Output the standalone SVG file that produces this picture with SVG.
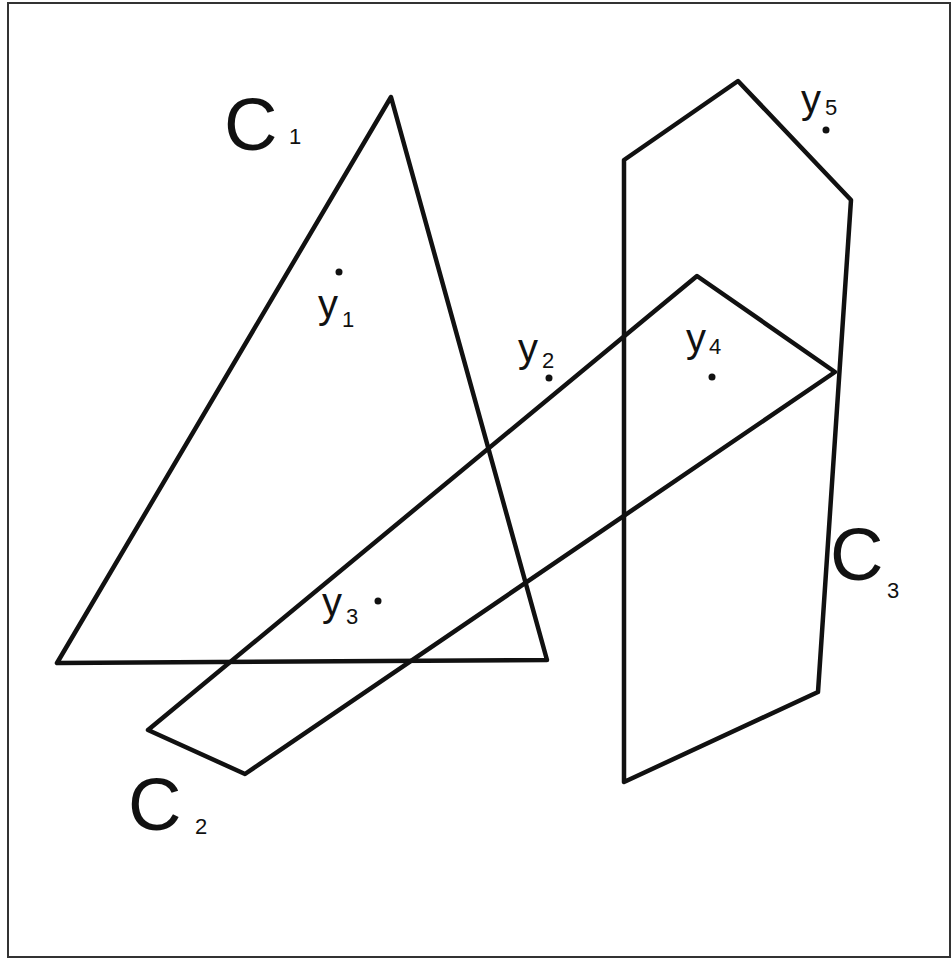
<svg xmlns="http://www.w3.org/2000/svg" width="952" height="961" viewBox="0 0 952 961">
<style>
.frame{fill:none;stroke:#333;stroke-width:2}
.shape{fill:none;stroke:#111;stroke-width:4.5;stroke-linejoin:round;stroke-linecap:round}
.lbl{font-family:"Liberation Sans",Arial,sans-serif;fill:#111}
.big{font-size:74px}
.y{font-size:40px}
.sub{font-size:22px}
.dot{fill:#111}
</style>
<rect x="0" y="0" width="952" height="961" fill="#fff"/>
<rect class="frame" x="8" y="3" width="942" height="954"/>
<g id="C1">
<polygon class="shape" points="391,97 57,663 547,660"/>
<text class="lbl big" x="224" y="150">C</text>
<text class="lbl sub" x="289" y="144">1</text>
</g>
<g id="C2">
<polygon class="shape" points="148,730 697,276 835,372 245,774"/>
<text class="lbl big" x="128" y="830">C</text>
<text class="lbl sub" x="195" y="834">2</text>
</g>
<g id="C3">
<polygon class="shape" points="624,160 738,81 851,200 818,692 624,782"/>
<text class="lbl big" x="830" y="580">C</text>
<text class="lbl sub" x="887" y="598">3</text>
</g>
<g id="y1">
<circle class="dot" cx="339" cy="272" r="3.5"/>
<text class="lbl y" x="318" y="318">y</text>
<text class="lbl sub" x="342" y="327">1</text>
</g>
<g id="y2">
<circle class="dot" cx="549" cy="378" r="3.5"/>
<text class="lbl y" x="518" y="362">y</text>
<text class="lbl sub" x="542" y="368">2</text>
</g>
<g id="y3">
<circle class="dot" cx="378" cy="601" r="3.5"/>
<text class="lbl y" x="322" y="616">y</text>
<text class="lbl sub" x="346" y="624">3</text>
</g>
<g id="y4">
<circle class="dot" cx="712" cy="377" r="3.5"/>
<text class="lbl y" x="686" y="352">y</text>
<text class="lbl sub" x="709" y="354">4</text>
</g>
<g id="y5">
<circle class="dot" cx="826" cy="130" r="3.5"/>
<text class="lbl y" x="801" y="113">y</text>
<text class="lbl sub" x="825" y="115">5</text>
</g>
</svg>
